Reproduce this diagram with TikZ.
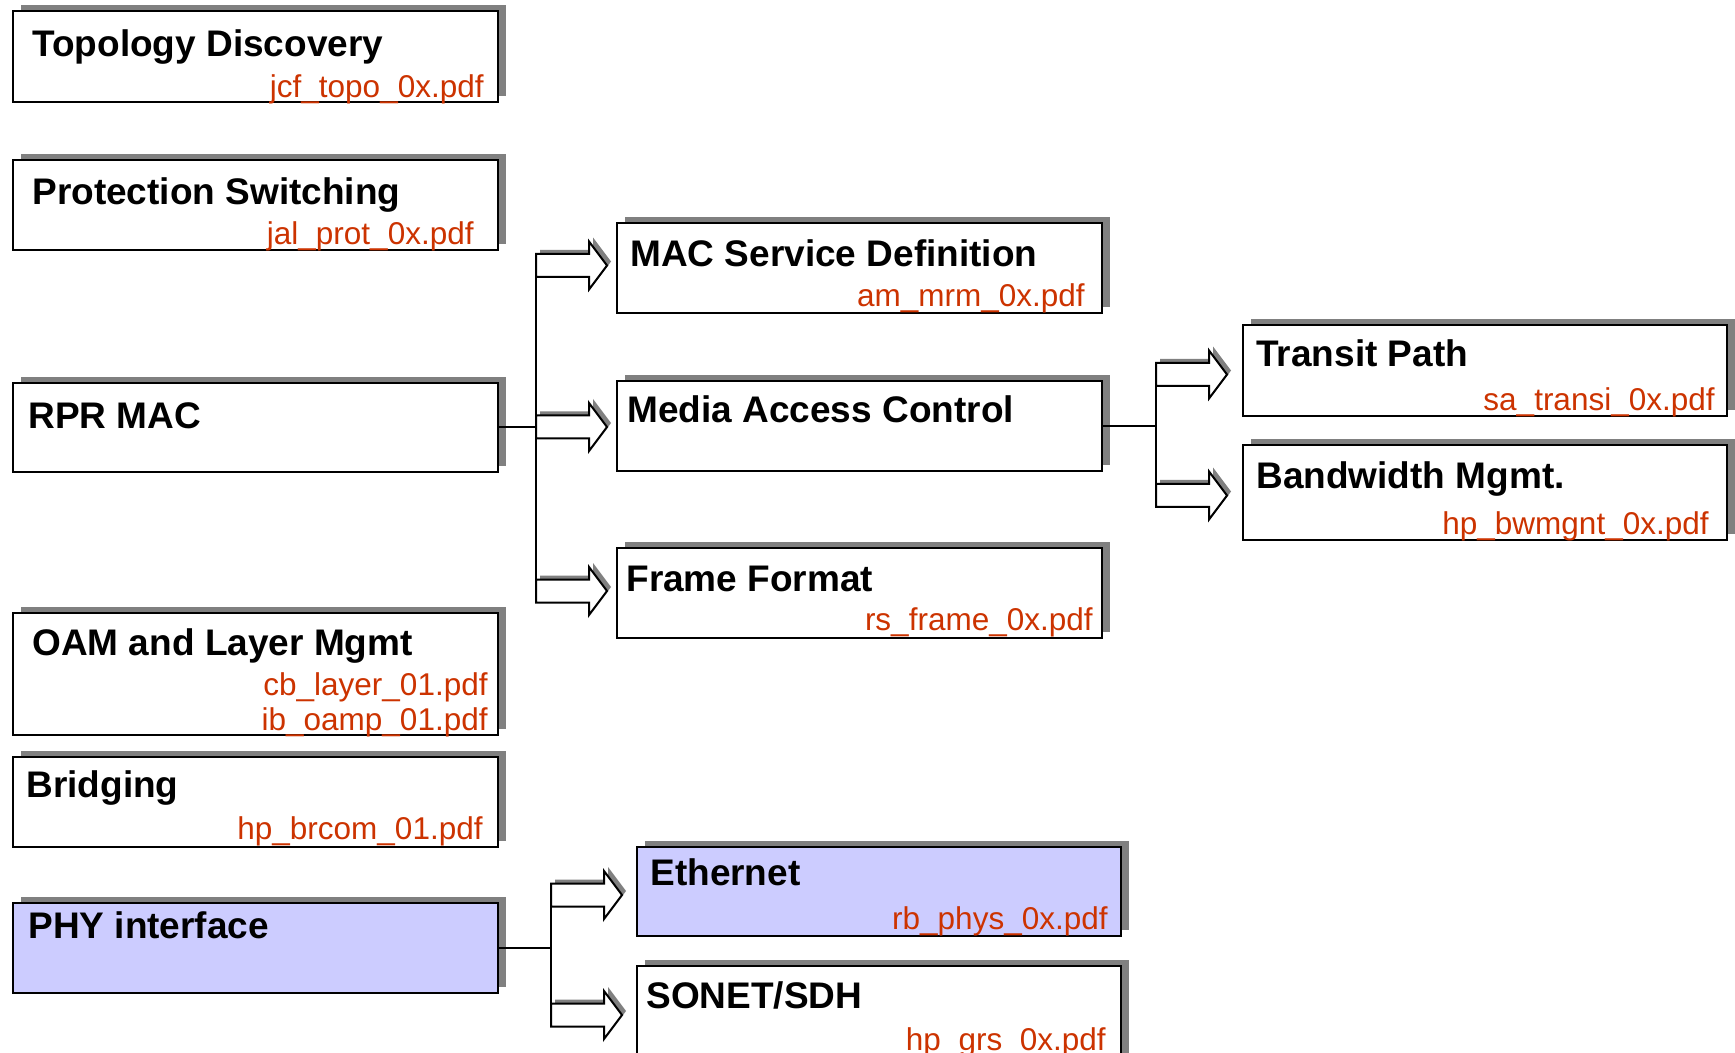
\documentclass[tikz,border=0pt]{standalone}
\usepackage{fontspec}
\setmainfont{Liberation Sans}
\usetikzlibrary{fit,shadows}
\definecolor{redtxt}{RGB}{204,51,0}
\definecolor{lav}{RGB}{204,204,255}
\definecolor{shgray}{RGB}{128,128,128}
\newcommand\blkarrow[3]{%
  \begin{scope}[shift={(#1,#2)}]
    \fill[shgray, shift={(4,-4)}] (0,-11.5) -- (53,-11.5) -- (53,-24) -- (71,0) -- (53,24) -- (53,11.5) -- (0,11.5) -- cycle;
    \draw[line width=1pt, fill=white, line join=miter] (0,-11.5) -- (53,-11.5) -- (53,-24) -- (71,0) -- (53,24) -- (53,11.5) -- (0,11.5) -- cycle;
    \coordinate (#3) at (71,0);
  \end{scope}}
\begin{document}
\begin{tikzpicture}[x=0.5pt,y=-0.5pt,
  box/.style={draw=black, line width=1pt, fill=white, inner sep=0pt,
     drop shadow={shadow xshift=4pt, shadow yshift=3pt, shadow scale=1, opacity=1, fill=shgray}},
  lavbox/.style={box, fill=lav},
  title/.style={font=\fontsize{18.5}{22}\selectfont\bfseries, inner sep=0pt, anchor=base west},
  file/.style={font=\fontsize{15.75}{19}\selectfont, text=redtxt, inner sep=0pt, anchor=base east},
  conn/.style={line width=1pt},
]
\useasboundingbox (0,0) rectangle (1735,1053);
\fill[white] (0,0) rectangle (1735,1053);

% bus coordinates
\coordinate (b1t) at (536,254);
\coordinate (b1b) at (536,603);
\coordinate (b2t) at (1156,363);
\coordinate (b2b) at (1156,507);
\coordinate (b3t) at (551,883.5);
\coordinate (b3b) at (551,1026.5);

% boxes
\node[box, fit={(13,11)(498,102)}] (topo) {};
\node[box, fit={(13,160)(498,250)}] (prot) {};
\node[box, fit={(13,383)(498,472)}] (rpr) {};
\node[box, fit={(13,613)(498,735)}] (oam) {};
\node[box, fit={(13,757)(498,847)}] (brid) {};
\node[lavbox, fit={(13,903)(498,993)}] (phy) {};
\node[box, fit={(617,223)(1102,313)}] (macsd) {};
\node[box, fit={(617,381)(1102,471)}] (mac) {};
\node[box, fit={(617,548)(1102,638)}] (frame) {};
\node[box, fit={(1243,325)(1727,416)}] (transit) {};
\node[box, fit={(1243,445)(1727,540)}] (bw) {};
\node[lavbox, fit={(637,847)(1121,936)}] (eth) {};
\node[box, fit={(637,966)(1121,1075)}] (sonet) {};

% connectors
\draw[conn] (rpr.east) -- (rpr.east -| b1t);
\draw[conn] (b1t) -- (b1b);
\draw[conn] (mac.east) -- (mac.east -| b2t);
\draw[conn] (b2t) -- (b2b);
\draw[conn] (phy.east) -- (phy.east -| b3t);
\draw[conn] (b3t) -- (b3b);

\blkarrow{536}{265.5}{a1}
\blkarrow{536}{427}{a2}
\blkarrow{536}{591}{a3}
\blkarrow{1156}{374.5}{a4}
\blkarrow{1156}{495.5}{a5}
\blkarrow{551}{895}{a6}
\blkarrow{551}{1015}{a7}

% texts
\node[title] (topo-t) at (32,57) {Topology Discovery};
\node[file] (topo-f) at (484,98) {jcf\_topo\_0x.pdf};
\node[title] (prot-t) at (32,205) {Protection Switching};
\node[file] (prot-f) at (474,245) {jal\_prot\_0x.pdf};
\node[title] (rpr-t) at (28,429) {RPR MAC};
\node[title] (oam-t) at (32,655) {OAM and Layer Mgmt};
\node[file] (oam-f1) at (488,695) {cb\_layer\_01.pdf};
\node[file] (oam-f2) at (488,730) {ib\_oamp\_01.pdf};
\node[title] (brid-t) at (26,797) {Bridging};
\node[file] (brid-f) at (483,839) {hp\_brcom\_01.pdf};
\node[title] (phy-t) at (28,938) {PHY interface};
\node[title] (macsd-t) at (630,267) {MAC Service Definition};
\node[file] (macsd-f) at (1085,307) {am\_mrm\_0x.pdf};
\node[title] (mac-t) at (627,423) {Media Access Control};
\node[title] (frame-t) at (626,591) {Frame Format};
\node[file] (frame-f) at (1093,630) {rs\_frame\_0x.pdf};
\node[title] (transit-t) at (1256,367) {Transit Path};
\node[file] (transit-f) at (1715,411) {sa\_transi\_0x.pdf};
\node[title] (bw-t) at (1256,488) {Bandwidth Mgmt.};
\node[file] (bw-f) at (1709,534) {hp\_bwmgnt\_0x.pdf};
\node[title] (eth-t) at (650,885) {Ethernet};
\node[file] (eth-f) at (1108,929) {rb\_phys\_0x.pdf};
\node[title] (sonet-t) at (646,1008) {SONET/SDH};
\node[file] (sonet-f) at (1106,1050) {hp\_grs\_0x.pdf};
\end{tikzpicture}
\end{document}
